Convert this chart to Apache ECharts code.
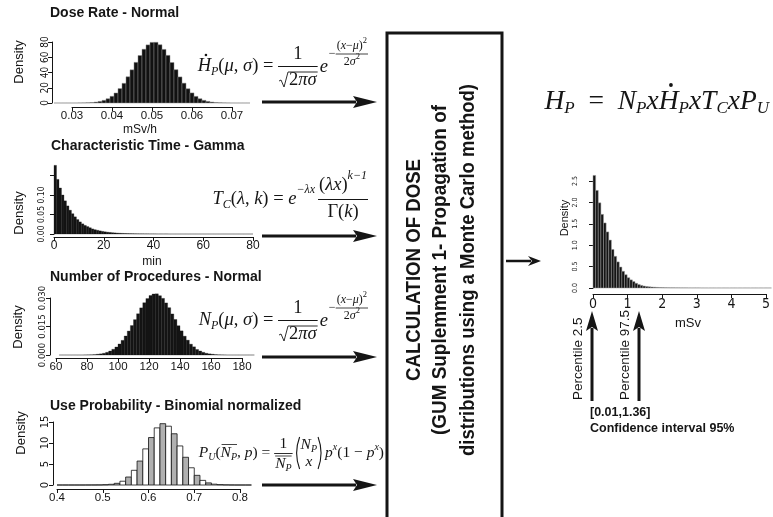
<!DOCTYPE html>
<html><head><meta charset="utf-8">
<script src="https://cdn.jsdelivr.net/npm/echarts@6/dist/echarts.min.js"></script>
<style>html,body{margin:0;padding:0;background:#fff}#c{width:773px;height:517px}</style>
</head><body><div id="c"></div>
<script>
// ---------------- DATA ----------------
const doseRateBinStart = 0.0255, doseRateBinWidth = 0.001;
const doseRateDensity = [0, 0, 0.003, 0.008, 0.02, 0.04, 0.09, 0.17, 0.35, 0.66, 1.2, 2.1, 3.5, 5.6, 8.8, 13.1, 18.9, 25.8, 34.4, 43.5, 53.3, 62.3, 70.5, 76.2, 79.5, 79.6, 76.4, 70.3, 62.5, 53.1, 43.7, 34.2, 26.0, 18.7, 13.2, 8.7, 5.6, 3.5, 2.1, 1.2, 0.64, 0.34, 0.17, 0.08, 0.04, 0.02, 0.007, 0.003, 0.001];
const doseRateXTicks = [0.03, 0.04, 0.05, 0.06, 0.07];
const doseRateYTicks = [0, 20, 40, 60, 80];
const doseRateYLabels = ['0', '20', '40', '60', '80'];

const timeBinStart = 0, timeBinWidth = 1;
const timeDensity = [0.176, 0.140, 0.118, 0.100, 0.085, 0.072, 0.061, 0.052, 0.044, 0.037, 0.031, 0.026, 0.022, 0.019, 0.016, 0.013, 0.011, 0.0095, 0.008, 0.0067, 0.0056, 0.0047, 0.004, 0.0033, 0.0028, 0.0023, 0.0019, 0.0016, 0.0013, 0.0011, 0.0009, 0.0008, 0.0006, 0.0005, 0.0004, 0.0004, 0.0003, 0.0003, 0.0002, 0.0002, 0.0002, 0.0001, 0.0001, 0.0001, 0.0001, 0.0001, 0, 0, 0, 0, 0, 0, 0, 0, 0, 0, 0, 0, 0, 0, 0, 0, 0, 0, 0, 0, 0, 0, 0, 0, 0, 0, 0, 0, 0, 0, 0, 0, 0, 0];
const timeXTicks = [0, 20, 40, 60, 80];
const timeYTicks = [0, 0.05, 0.10, 0.15];
const timeYLabels = ['0.00', '0.05', '0.10', ''];

const procBinStart = 62, procBinWidth = 2;
const procDensity = [0, 0, 0, 0, 0, 0, 0, 0, 0.00003, 0.00006, 0.0001, 0.0002, 0.0004, 0.0006, 0.0009, 0.0014, 0.0021, 0.0030, 0.0042, 0.0058, 0.0077, 0.0100, 0.0126, 0.0155, 0.0186, 0.0217, 0.0248, 0.0275, 0.0297, 0.0313, 0.0321, 0.0322, 0.0312, 0.0298, 0.0274, 0.0249, 0.0216, 0.0187, 0.0154, 0.0127, 0.0099, 0.0078, 0.0057, 0.0043, 0.0029, 0.0021, 0.0014, 0.0009, 0.0006, 0.0004, 0.0002, 0.0001, 0.00006, 0.00003, 0, 0, 0, 0, 0, 0, 0, 0, 0];
const procXTicks = [60, 80, 100, 120, 140, 160, 180];
const procYTicks = [0, 0.015, 0.030];
const procYLabels = ['0.000', '0.015', '0.030'];

const probBinStart = 0.4, probBinWidth = 0.0125;
const probDensity = [0, 0, 0, 0, 0, 0.005, 0.01, 0.02, 0.06, 0.17, 0.4, 0.9, 1.9, 3.5, 5.7, 8.6, 11.3, 13.6, 14.6, 14.0, 12.2, 9.3, 6.6, 4.1, 2.3, 1.1, 0.5, 0.2, 0.08, 0.03, 0.01, 0, 0, 0];
const probXTicks = [0.4, 0.5, 0.6, 0.7, 0.8];
const probYTicks = [0, 5, 10, 15];
const probYLabels = ['0', '5', '10', '15'];

const doseBinStart = 0, doseBinWidth = 0.075;
const doseDensity = [2.63, 2.28, 1.99, 1.72, 1.52, 1.31, 1.12, 0.90, 0.74, 0.61, 0.49, 0.39, 0.31, 0.24, 0.19, 0.15, 0.11, 0.08, 0.06, 0.045, 0.035, 0.028, 0.022, 0.018, 0.014, 0.011, 0.009, 0.007, 0.006, 0.005, 0.005, 0.004, 0.004, 0.003, 0.003, 0.003, 0.002, 0.002, 0.002, 0.002, 0.002, 0.001, 0.001, 0.001, 0.001, 0.001, 0.001, 0.001, 0.001, 0.001, 0.001, 0.001, 0.001, 0.001, 0.001, 0.001, 0.001, 0.001, 0.001, 0.001, 0.001, 0.001, 0.001, 0.001, 0.001, 0.001, 0.001, 0.001];
const doseXTicks = [0, 1, 2, 3, 4, 5];
const doseYTicks = [0, 0.5, 1.0, 1.5, 2.0, 2.5];
const doseYLabels = ['0.0', '0.5', '1.0', '1.5', '2.0', '2.5'];

// ---------------- FONTS / HELPERS ----------------
const mc = document.createElement('canvas').getContext('2d');
const SANS = '"Liberation Sans", Arial, sans-serif';
const NARROW = '"DejaVu Sans Condensed", "Liberation Sans Narrow", "Liberation Sans", sans-serif';
const SERIF = '"Liberation Serif", "DejaVu Serif", serif';
const INK = '#151515';
function font(s, it, wt, fam) { return (it ? 'italic ' : '') + (wt || 'normal') + ' ' + s + 'px ' + (fam || SERIF); }
function tw(t, s, it, wt, fam) { mc.font = font(s, it, wt, fam); return mc.measureText(t).width; }
const G = [];
let DRY = false;
function add(e) { if (!DRY) G.push(e); }
function T(t, x, y, o) {
  o = o || {};
  const al = o.align || 'left', va = o.va || 'middle';
  add({type: 'text', x: x, y: y, rotation: o.rot || 0, scaleX: o.sx || 1, scaleY: 1, z: 20, silent: true,
    style: {text: t, x: 0, y: 0, font: font(o.s || 12, o.it, o.wt, o.fam), fill: o.fill || INK,
      align: al, verticalAlign: va, textAlign: al, textVerticalAlign: va}});
}
function L(pts, lw) { add({type: 'polyline', z: 20, silent: true, shape: {points: pts}, style: {stroke: INK, lineWidth: lw || 1, fill: null}}); }
function run(x, y, parts) { for (const [t, s, it, dy] of parts) { T(t, x, y + (dy || 0), {s: s, it: it}); x += tw(t, s, it); } return x; }
function runW(parts) { let w = 0; for (const [t, s, it] of parts) w += tw(t, s, it); return w; }
function dot(cx, cy, r) { add({type: 'circle', z: 20, silent: true, shape: {cx: cx, cy: cy, r: r}, style: {fill: INK}}); }
function paren(x, y, left, h) {
  const sh = left ? {x1: x + 5, y1: y - h, cpx1: x - 1, cpy1: y, x2: x + 5, y2: y + h} : {x1: x, y1: y - h, cpx1: x + 6, cpy1: y, x2: x, y2: y + h};
  add({type: 'bezierCurve', z: 20, silent: true, shape: sh, style: {stroke: INK, lineWidth: 1.1, fill: null}});
}
function hArrow(x0, x1, y, hl, hw, lw) {
  L([[x0, y], [x1 - hl + 3, y]], lw);
  add({type: 'polygon', z: 20, silent: true, shape: {points: [[x1 - hl, y - hw], [x1, y], [x1 - hl, y + hw], [x1 - hl + 4, y]]}, style: {fill: INK}});
}
function vArrow(x, y0, y1, hl, hw, lw) {
  L([[x, y0], [x, y1 + hl - 3]], lw);
  add({type: 'polygon', z: 20, silent: true, shape: {points: [[x - hw, y1 + hl], [x, y1], [x + hw, y1 + hl], [x, y1 + hl - 4]]}, style: {fill: INK}});
}
function placeRight(fn, xEnd, y) { DRY = true; const w = fn(0, y); DRY = false; return fn(xEnd - w, y); }

// ---------------- FORMULAS ----------------
function normalF(x, y, head, withDot) {
  const S = 18.5, s = 12, sup = 8.5;
  const hx = x;
  x = run(x, y, [[head, S, true]]);
  if (withDot) dot(hx + tw(head, S, true) * 0.62, y - 11, 1.3);
  x = run(x, y, [['P', s, true, 6], ['(', S], ['μ', S, true], [', ', S], ['σ', S, true], [')', S], [' = ', S]]);
  const den = [['2', S], ['π', S, true], ['σ', S, true]];
  const fw = runW(den) + 12;
  L([[x, y + 0.5], [x + fw, y + 0.5]], 1);
  T('1', x + fw / 2, y - 12, {s: S, align: 'center'});
  const rx = x + 1, ry = y + 14;
  L([[rx, ry + 1], [rx + 2, ry], [rx + 5, ry + 7], [rx + 9, ry - 8], [x + fw, ry - 8]], 0.9);
  run(rx + 10, ry, den);
  x += fw + 2;
  x = run(x, y + 1, [['e', S, true]]);
  x += 1;
  x = run(x, y - 12, [['−', s]]);
  const num = [['(', s], ['x', s, true], ['−', s], ['μ', s, true], [')', s], ['2', sup, false, -5]];
  const dn = [['2', s], ['σ', s, true], ['2', sup, false, -5]];
  const nw = runW(num), dnw = runW(dn), sw = Math.max(nw, dnw) + 2;
  L([[x, y - 12], [x + sw, y - 12]], 0.8);
  run(x + (sw - nw) / 2, y - 20, num);
  run(x + (sw - dnw) / 2, y - 4, dn);
  return x + sw;
}
function gammaF(x, y) {
  const S = 18.5, s = 12;
  x = run(x, y, [['T', S, true], ['C', s, true, 6], ['(', S], ['λ', S, true], [', ', S], ['k', S, true], [')', S], [' = ', S], ['e', S, true], ['−λx', s, true, -9]]);
  x += 3;
  const num = [['(', S], ['λ', S, true], ['x', S, true], [')', S], ['k−1', s, true, -9]];
  const den = [['Γ', S], ['(', S], ['k', S, true], [')', S]];
  const nw = runW(num), dw = runW(den), fw = Math.max(nw, dw) + 2;
  L([[x, y + 0.5], [x + fw, y + 0.5]], 1);
  run(x + (fw - nw) / 2, y - 14, num);
  run(x + (fw - dw) / 2, y + 13, den);
  return x + fw;
}
function binomF(x, y) {
  const S = 15.5, s = 10;
  x = run(x, y, [['P', S, true], ['U', s, true, 4], ['(', S]]);
  const nx = x; x = run(x, y, [['N', S, true]]);
  x = run(x, y, [['P', s, true, 4]]);
  L([[nx + 1, y - 8.5], [x, y - 8.5]], 0.8);
  x = run(x, y, [[', ', S], ['p', S, true], [')', S], [' = ', S]]);
  const den = [['N', S, true], ['P', s, true, 4]];
  const dw = runW(den), fw = dw + 2;
  L([[x, y + 0.5], [x + fw, y + 0.5]], 0.9);
  L([[x + 1, y + 3], [x + fw - 1, y + 3]], 0.8);
  T('1', x + fw / 2, y - 9, {s: S, align: 'center'});
  run(x + 1, y + 11, den);
  x += fw + 2;
  paren(x, y, true, 16); x += 6;
  const bn = [['N', S, true], ['P', s, true, 4]], bx = [['x', S, true]];
  const bw = runW(bn), xw = runW(bx), iw = Math.max(bw, xw);
  run(x + (iw - bw) / 2, y - 8, bn);
  run(x + (iw - xw) / 2, y + 9, bx);
  x += iw + 1; paren(x, y, false, 16); x += 7;
  return run(x, y, [['p', S, true], ['x', s, true, -6], ['(1 − ', S], ['p', S, true], ['x', s, true, -6], [')', S]]);
}
function productF(x, y) {
  const S = 27.5, s = 17;
  x = run(x, y, [['H', S, true], ['P', s, true, 7], ['  =  ', S], ['N', S, true], ['P', s, true, 7], ['x', S, true]]);
  const hx = x; x = run(x, y, [['H', S, true]]);
  dot(hx + tw('H', S, true) * 0.62, y - 17, 1.9);
  return run(x, y, [['P', s, true, 7], ['x', S, true], ['T', S, true], ['C', s, true, 7], ['x', S, true], ['P', S, true], ['U', s, true, 7]]);
}

placeRight((x, y) => normalF(x, y, 'H', true), 368, 66);
placeRight(gammaF, 368, 199);
placeRight((x, y) => normalF(x, y, 'N', false), 368, 320);
placeRight(binomF, 384, 453);
placeRight(productF, 769, 102);

// titles
T('Dose Rate - Normal', 50, 13, {s: 14, wt: 'bold', fam: SANS});
T('Characteristic Time - Gamma', 51, 146, {s: 14, wt: 'bold', fam: SANS});
T('Number of Procedures - Normal', 50, 277, {s: 14, wt: 'bold', fam: SANS});
T('Use Probability - Binomial normalized', 50, 406, {s: 14, wt: 'bold', fam: SANS});
const R90 = Math.PI / 2;
[[19, 62], [19, 213], [18, 327], [21, 433]].forEach(p => T('Density', p[0], p[1], {s: 13, fam: SANS, rot: R90, align: 'center'}));
T('Density', 565, 218, {s: 11, fam: SANS, rot: R90, align: 'center'});
T('mSv/h', 140, 130, {s: 12, fam: SANS, align: 'center'});
T('min', 152, 262, {s: 12, fam: SANS, align: 'center'});
T('mSv', 688, 323, {s: 13, fam: SANS, align: 'center'});

// arrows
[102, 236, 357, 485].forEach(y => hArrow(262, 377, y, 24, 6, 3));
hArrow(506, 541, 261, 13, 5, 2.5);
vArrow(592, 401, 311, 20, 6, 3);
vArrow(639, 401, 311, 20, 6, 3);
T('Percentile 2.5', 578, 400, {s: 13.5, fam: SANS, rot: R90, align: 'left'});
T('Percentile 97.5', 625, 400, {s: 13.5, fam: SANS, rot: R90, align: 'left'});
T('[0.01,1.36]', 590, 413, {s: 12.5, wt: 'bold', fam: SANS});
T('Confidence interval 95%', 590, 429, {s: 12.5, wt: 'bold', fam: SANS});

// middle box
L([[387, 525], [387, 33], [502, 33], [502, 525]], 3);
const boxLines = [['CALCULATION OF DOSE', 414, 222, 21], ['(GUM Suplemment 1- Propagation of', 440, 330, 20], ['distributions using a Monte Carlo method)', 468, 372, 20]];
boxLines.forEach(([t, x, len, fs]) => T(t, x, 270, {s: fs, wt: 'bold', fam: SANS, rot: R90, align: 'center', sx: len / tw(t, fs, false, 'bold', SANS)}));

// ---------------- CHART PANELS ----------------
const panels = [
  {d: doseRateDensity, b0: doseRateBinStart, bw: doseRateBinWidth, xT: doseRateXTicks, yT: doseRateYTicks, yL: doseRateYLabels, px0: 72, px1: 232, pyB: 103, pyT: 42, yAxX: 52, xAxY: 107, xDec: 2, xFs: 11.5, yFs: 10, fill: () => '#111', stroke: '#8a8a8a', lw: 0.5},
  {d: timeDensity, b0: timeBinStart, bw: timeBinWidth, xT: timeXTicks, yT: timeYTicks, yL: timeYLabels, px0: 54, px1: 253, pyB: 234, pyT: 175.5, yAxX: 48, xAxY: 237, xDec: 0, xFs: 12, yFs: 8.5, fill: () => '#141414', stroke: '#141414', lw: 0.3},
  {d: procDensity, b0: procBinStart, bw: procBinWidth, xT: procXTicks, yT: procYTicks, yL: procYLabels, px0: 56, px1: 242, pyB: 355, pyT: 298, yAxX: 50, xAxY: 358, xDec: 0, xFs: 11.5, yFs: 9.5, fill: () => '#141414', stroke: '#141414', lw: 0.3},
  {d: probDensity, b0: probBinStart, bw: probBinWidth, xT: probXTicks, yT: probYTicks, yL: probYLabels, px0: 57, px1: 240, pyB: 485, pyT: 422, yAxX: 53, xAxY: 489, xDec: 1, xFs: 11.5, yFs: 11, fill: i => (i % 2 ? '#ffffff' : '#b0b0b0'), stroke: '#111', lw: 0.8},
  {d: doseDensity, b0: doseBinStart, bw: doseBinWidth, xT: doseXTicks, yT: doseYTicks, yL: doseYLabels, px0: 593, px1: 768, pyB: 288, pyT: 181, yAxX: 581, xAxY: 294, xDec: 0, xFs: 14, yFs: 7, fill: () => '#141414', stroke: '#999', lw: 0.5}
];
const grid = [], xAxis = [], yAxis = [], series = [];
panels.forEach((p, i) => {
  const x0 = p.xT[0], x1 = p.xT[p.xT.length - 1];
  const sx = (p.px1 - p.px0) / (x1 - x0);
  const hMin = p.b0, hMax = p.b0 + p.d.length * p.bw;
  const gl = p.px0 + (hMin - x0) * sx, gr = p.px0 + (hMax - x0) * sx;
  const yMax = p.yT[p.yT.length - 1];
  grid.push({left: gl, width: gr - gl, top: p.pyT, height: p.pyB - p.pyT});
  grid.push({left: p.px0, width: p.px1 - p.px0, top: p.xAxY - 1, height: 1});
  const gi = 2 * i;
  xAxis.push({gridIndex: gi, type: 'value', min: hMin, max: hMax, show: false});
  xAxis.push({gridIndex: gi + 1, type: 'value', min: x0, max: x1, interval: p.xT[1] - p.xT[0],
    axisLine: {show: true, lineStyle: {color: INK, width: 1}}, axisTick: {show: true, length: 4, lineStyle: {color: INK}},
    splitLine: {show: false},
    axisLabel: {show: true, hideOverlap: false, margin: 3, fontSize: p.xFs, color: INK, fontFamily: i === 4 ? NARROW : SANS, formatter: v => (+v).toFixed(p.xDec), showMinLabel: true, showMaxLabel: true}});
  yAxis.push({gridIndex: gi, type: 'value', min: p.yT[0], max: yMax, interval: p.yT[1] - p.yT[0], offset: gl - p.yAxX,
    axisLine: {show: true, lineStyle: {color: INK, width: 1}}, axisTick: {show: true, length: 4, lineStyle: {color: INK}},
    splitLine: {show: false},
    axisLabel: {show: true, hideOverlap: false, rotate: 90, margin: 2, fontSize: p.yFs, color: INK, fontFamily: NARROW, formatter: (v, idx) => p.yL[idx], showMinLabel: true, showMaxLabel: true}});
  yAxis.push({gridIndex: gi + 1, type: 'value', min: 0, max: 1, show: false});
  series.push({type: 'custom', xAxisIndex: gi, yAxisIndex: gi, clip: false, silent: true,
    data: p.d.map((v, k) => [p.b0 + k * p.bw, p.b0 + (k + 1) * p.bw, v]),
    encode: {x: [0, 1], y: 2},
    renderItem: (params, api) => {
      const a = api.coord([api.value(0), api.value(2)]);
      const b = api.coord([api.value(1), 0]);
      return {type: 'rect', shape: {x: a[0], y: a[1], width: b[0] - a[0], height: b[1] - a[1]},
        style: {fill: p.fill(params.dataIndex), stroke: p.stroke, lineWidth: p.lw}};
    }});
});

const chart = echarts.init(document.getElementById('c'), null, {renderer: 'canvas'});
chart.setOption({backgroundColor: '#fff', animation: false, grid, xAxis, yAxis, series, graphic: {elements: G}});
</script></body></html>
